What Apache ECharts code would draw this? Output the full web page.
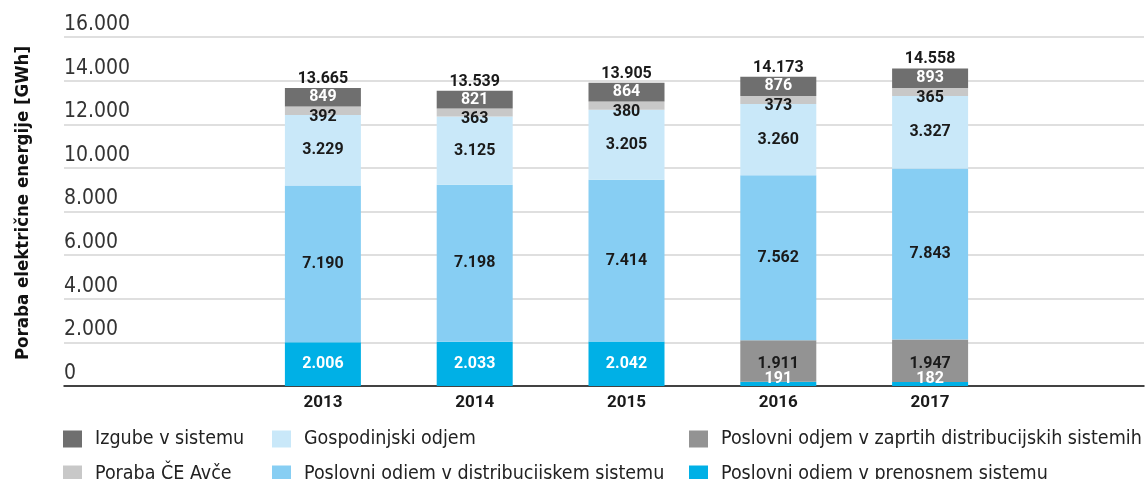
<!DOCTYPE html>
<html>
<head>
<meta charset="utf-8">
<script src="https://cdn.jsdelivr.net/npm/echarts@6/dist/echarts.min.js"></script>
<style>
  html, body { margin: 0; padding: 0; background: #fff; }
  #main { width: 1147px; height: 479px; }
</style>
</head>
<body>
<div id="main"></div>
<script>
// leta
var years = ['2013', '2014', '2015', '2016', '2017']
// vrednosti [GWh], od spodaj navzgor
var prenosni = [2006, 2033, 2042, 191, 182]
var zaprti = [0, 0, 0, 1911, 1947]
var distribucijski = [7190, 7198, 7414, 7562, 7843]
var gospodinjski = [3229, 3125, 3205, 3260, 3327]
var avce = [392, 363, 380, 373, 365]
var izgube = [849, 821, 864, 876, 893]
var skupaj = [13665, 13539, 13905, 14173, 14558]
var yTicks = [0, 2000, 4000, 6000, 8000, 10000, 12000, 14000, 16000]

var narrow = '"Liberation Sans Narrow", "DejaVu Sans Condensed", sans-serif'
var bold = 'Roboto, "Liberation Sans", sans-serif'

function fmt (v) {
  return String(v).replace(/\B(?=(\d{3})+(?!\d))/g, '.')
}

function segLabel (color, extra) {
  var l = {
    show: true,
    position: 'inside',
    color: color,
    fontFamily: bold,
    fontWeight: 'bold',
    fontSize: 16,
    formatter: function (p) { return p.value ? fmt(p.value) : '' }
  }
  return Object.assign(l, extra || {})
}

function bar (name, values, color, label) {
  return {
    name: name,
    type: 'bar',
    stack: 'sum',
    xAxisIndex: 1,
    yAxisIndex: 1,
    barWidth: 76,
    itemStyle: { color: color },
    label: label,
    data: values.map(function (v) { return v })
  }
}

var prenosniData = prenosni.map(function (v) {
  if (v < 500) {
    return { value: v, label: { position: 'insideBottom', distance: -1 } }
  }
  return v
})

function legend (left, names) {
  return {
    orient: 'vertical', left: left, top: 429, height: 80, padding: 0,
    itemWidth: 19, itemHeight: 17, itemGap: 15,
    icon: 'rect', selectedMode: false,
    textStyle: { fontFamily: narrow, fontSize: 19.5, color: '#222', padding: [0, 0, 0, 8] },
    data: names
  }
}

var myChart = echarts.init(document.getElementById('main'))

var option = {
  animation: false,
  grid: [
    { left: 64, right: 3, top: 37, bottom: 93 },
    { left: 247, width: 759, top: 37, bottom: 93 }
  ],
  legend: [
    legend(63, ['Izgube v sistemu', 'Poraba ČE Avče']),
    legend(272, ['Gospodinjski odjem', 'Poslovni odjem v distribucijskem sistemu']),
    legend(689, ['Poslovni odjem v zaprtih distribucijskih sistemih', 'Poslovni odjem v prenosnem sistemu'])
  ],
  xAxis: [
    {
      gridIndex: 0, type: 'category', data: [''],
      axisLine: { lineStyle: { color: '#111', width: 1.5 } },
      axisTick: { show: false }, axisLabel: { show: false }
    },
    {
      gridIndex: 1, type: 'category', data: years,
      axisLine: { show: false }, axisTick: { show: false },
      axisLabel: { margin: 8, color: '#1a1a1a', fontFamily: bold, fontWeight: 'bold', fontSize: 17 }
    }
  ],
  yAxis: [
    {
      gridIndex: 0, type: 'value', min: yTicks[0], max: yTicks[yTicks.length - 1], interval: 2000,
      name: 'Poraba električne energije [GWh]',
      nameLocation: 'middle', nameGap: 31,
      nameTextStyle: { fontFamily: narrow, fontWeight: 'bold', fontSize: 18.5, color: '#111', padding: [0, 0, 0, 17] },
      axisLine: { show: false }, axisTick: { show: false },
      axisLabel: {
        inside: true, margin: 0, align: 'left', verticalAlign: 'bottom', padding: [0, 0, 2, 0],
        fontFamily: narrow, fontSize: 21, color: '#333',
        formatter: function (v) { return fmt(v) }
      },
      splitLine: { lineStyle: { color: '#d4d4d4', width: 1.5 } }
    },
    {
      gridIndex: 1, type: 'value', min: yTicks[0], max: yTicks[yTicks.length - 1], interval: 2000,
      show: false, splitLine: { show: false }
    }
  ],
  series: [
    Object.assign(bar('Poslovni odjem v prenosnem sistemu', prenosni, '#00b0e6', segLabel('#fff')), { data: prenosniData }),
    bar('Poslovni odjem v zaprtih distribucijskih sistemih', zaprti, '#939393', segLabel('#1a1a1a', { offset: [0, 3] })),
    bar('Poslovni odjem v distribucijskem sistemu', distribucijski, '#87cef3', segLabel('#1a1a1a')),
    bar('Gospodinjski odjem', gospodinjski, '#c9e8f9', segLabel('#1a1a1a')),
    bar('Poraba ČE Avče', avce, '#c8c8c8', segLabel('#1a1a1a', { offset: [0, 6] })),
    bar('Izgube v sistemu', izgube, '#6f6f6f', segLabel('#fff')),
    {
      name: 'skupaj',
      type: 'bar',
      stack: 'sum',
      xAxisIndex: 1,
      yAxisIndex: 1,
      barWidth: 76,
      itemStyle: { color: 'transparent' },
      label: {
        show: true, position: 'top', distance: 1, color: '#1a1a1a',
        fontFamily: bold, fontWeight: 'bold', fontSize: 16,
        formatter: function (p) { return fmt(skupaj[p.dataIndex]) }
      },
      data: skupaj.map(function () { return 0 })
    }
  ]
}

myChart.setOption(option)
</script>
</body>
</html>
